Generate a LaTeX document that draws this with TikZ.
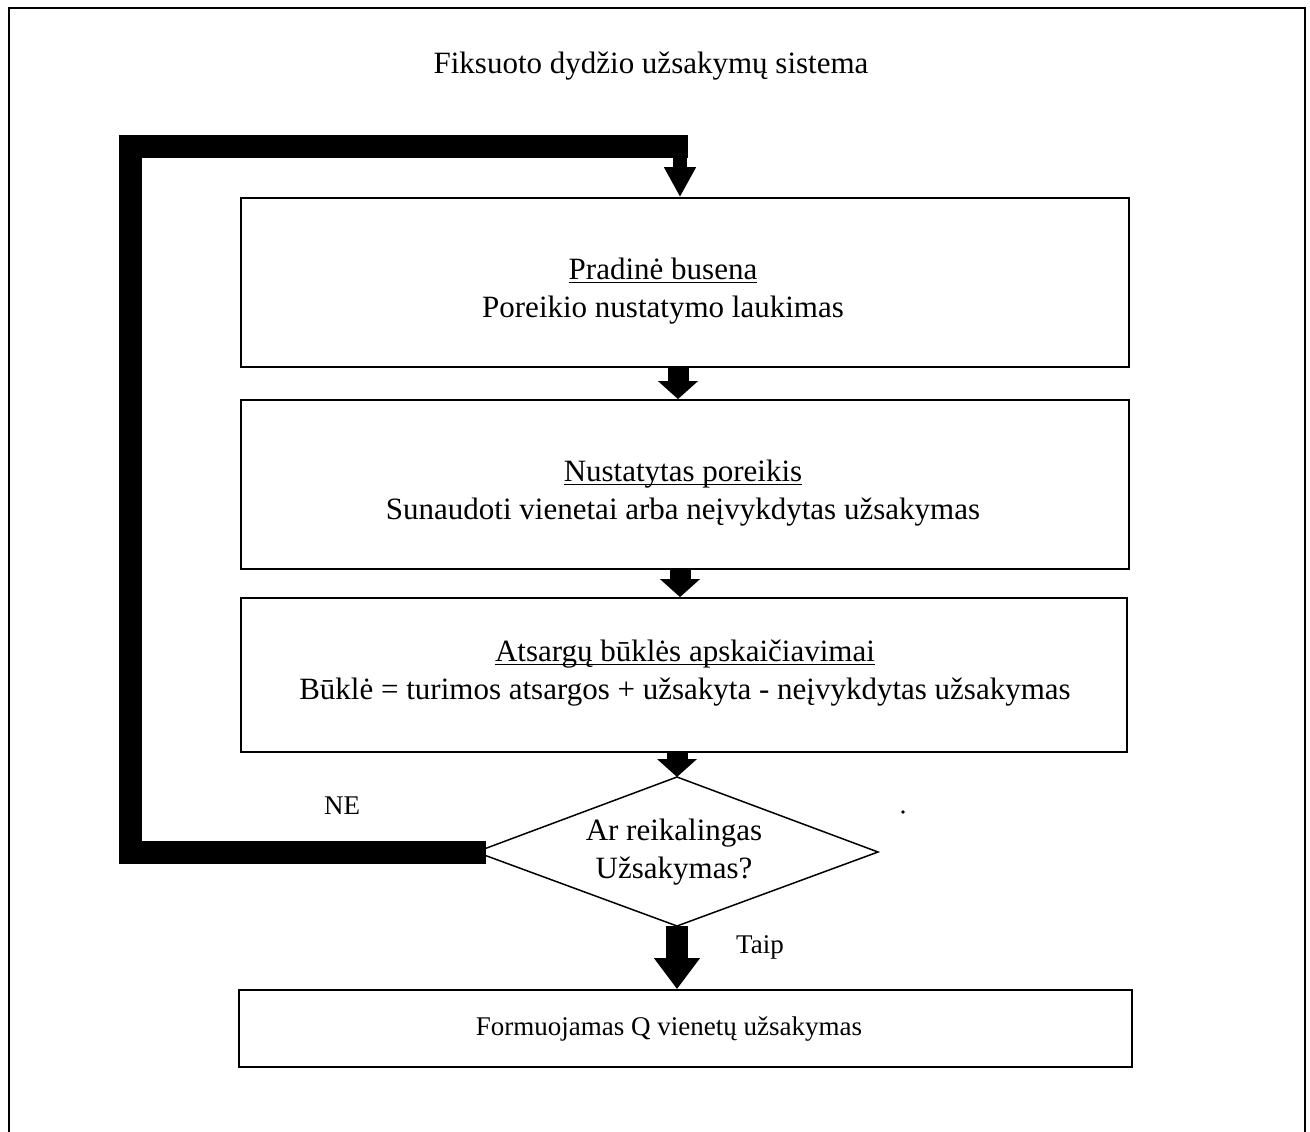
\documentclass[tikz,border=0pt]{standalone}
\usepackage{fontspec}
\setmainfont{Liberation Serif}
\usetikzlibrary{arrows.meta}
% underline that runs just under the baseline, across descenders
\newcommand\undl[1]{\setbox0\hbox{#1}\rlap{\rule[-3.5pt]{\wd0}{1.4pt}}\box0}
\begin{document}
\begin{tikzpicture}[x=1pt,y=-1pt,
  font=\fontsize{31}{38}\selectfont,
  box/.style={draw, line width=1.8pt, inner sep=0pt},
  txt/.style={align=center, inner sep=0pt},
  small/.style={font=\fontsize{27}{32}\selectfont, inner sep=0pt},
  flow/.style={line width=21pt, -{Triangle[length=18pt,width=39pt]}},
  bigflow/.style={line width=22pt, -{Triangle[length=31pt,width=44pt]}},
  loopbar/.style={line width=23pt, line join=miter}]
\useasboundingbox (0,0) rectangle (1310,1132);
\clip (0,0) rectangle (1310,1132);

% outer frame
\draw[line width=2pt] (9,1140) -- (9,8) -- (1305,8) -- (1305,1140);

% title
\node[txt] (title) at (651,66) {Fiksuoto dydžio užsakymų sistema};

% process boxes
\node[box, minimum width=888, minimum height=169] (b1) at (685,282.5) {};
\node[box, minimum width=888, minimum height=169] (b2) at (685,484.5) {};
\node[box, minimum width=886, minimum height=154] (b3) at (684,675) {};
\node[box, minimum width=893, minimum height=77] (b4) at (685.5,1028.5) {};

\node[txt] (t1) at (663,291) {\undl{Pradinė busena}\\Poreikio nustatymo laukimas};
\node[txt] (t2) at (683,493) {\undl{Nustatytas poreikis}\\Sunaudoti vienetai arba neįvykdytas užsakymas};
\node[txt] (t3) at (685,673) {\undl{Atsargų būklės apskaičiavimai}\\Būklė = turimos atsargos + užsakyta - neįvykdytas užsakymas};
\node[txt, small] (t4) at (669,1029) {Formuojamas Q vienetų užsakymas};

% decision
\coordinate (dtop) at (677,777);
\coordinate (dright) at (878,852);
\coordinate (dbot) at (677,926);
\coordinate (dleft) at (476,852);
\draw[line width=1.5pt] (dtop) -- (dright) -- (dbot) -- (dleft) -- cycle;
\node[txt] (dq) at (674,852) {Ar reikalingas\\Užsakymas?};
\fill (903,812) circle (1.8);

% flow between the boxes
\draw[flow] ([xshift=-7pt]b1.south) -- ([xshift=-7pt]b2.north);
\draw[flow] ([xshift=-5pt]b2.south) -- ([xshift=-4pt]b3.north);
\draw[flow] (b3.south -| dtop) -- (dtop);
\draw[bigflow] (dbot) -- (dbot |- b4.north);
\node[small] (taip) at (760,947) {Taip};

% return loop (NE)
\coordinate (lc1) at (130,852);
\coordinate (lc2) at (130,146);
\coordinate (lc3) at (688,146);
\draw[loopbar] ([xshift=10pt]dleft) -- (lc1) -- (lc2) -- (lc3);
\draw[line width=14pt, -{Triangle[length=30pt,width=30pt]}] ([xshift=-8pt]lc3) -- ([xshift=-5pt]b1.north);
\node[small] (ne) at (342,806) {NE};
\end{tikzpicture}
\end{document}
